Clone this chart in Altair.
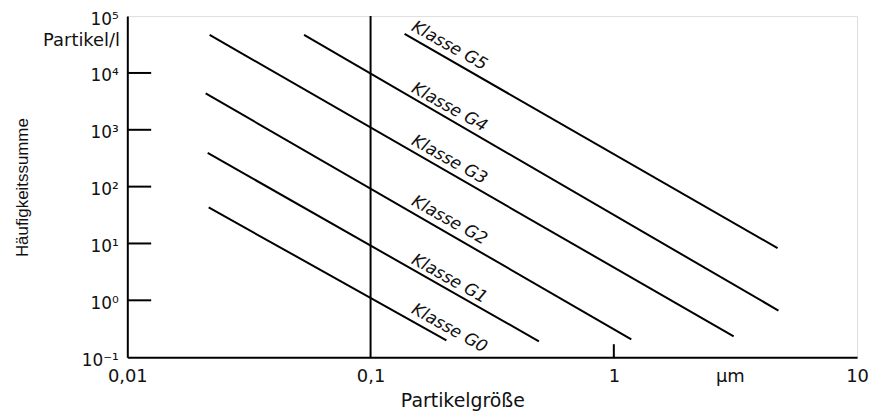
import altair as alt
import pandas as pd

# ---- data ----
classes = ["G0", "G1", "G2", "G3", "G4", "G5"]
x_start = [0.0216, 0.0214, 0.0210, 0.0218, 0.0533, 0.138]
y_start = [43, 392, 4370, 46700, 46700, 48500]
x_end = [0.205, 0.492, 1.18, 3.11, 4.75, 4.71]
y_end = [0.198, 0.19, 0.206, 0.232, 0.66, 8.3]

label_x = [0.211, 0.211, 0.211, 0.211, 0.211, 0.211]
label_y = [0.32, 2.39, 25.5, 296, 2480, 30000]

x_ticks = [0.01, 0.1, 1, 3, 10]
x_tick_labels = ["0,01", "0,1", "1", "µm", "10"]
y_ticks = [0.1, 1, 10, 100, 1000, 10000, 100000]
y_tick_labels = ["10⁻¹", "10⁰", "10¹", "10²", "10³", "10⁴", "10⁵"]
y_inner_ticks = [1, 10, 100, 1000, 10000]
x_inner_ticks = [1]
grid_x = [0.1]

rows = []
for c, xs, ys, xe, ye in zip(classes, x_start, y_start, x_end, y_end):
    rows.append({"cls": c, "x": xs, "y": ys})
    rows.append({"cls": c, "x": xe, "y": ye})
lines_df = pd.DataFrame(rows)
labels_df = pd.DataFrame({"text": ["Klasse " + c for c in classes], "x": label_x, "y": label_y})

xscale = alt.Scale(type="log", domain=[0.01, 10], nice=False)
yscale = alt.Scale(type="log", domain=[0.1, 100000], nice=False)

xlab_map = "{" + ",".join(f"'{v}':'{l}'" for v, l in zip(x_ticks, x_tick_labels)) + "}"
ylab_list = "[" + ",".join(f"'{l}'" for l in y_tick_labels) + "]"

x_axis = alt.Axis(
    values=x_ticks,
    labelExpr=f"{xlab_map}[toString(datum.value)]",
    ticks=False, grid=False, domainColor="black", domainWidth=2,
    labelFont="DejaVu Sans", labelFontSize=18, labelColor="#111",
    labelBaseline="top", labelPadding=11, labelFlush=False, labelOverlap=False,
    title="Partikelgröße", titleFont="DejaVu Sans", titleFontSize=19,
    titleFontWeight="normal", titleColor="#111",
    titleX=337, titleY=44, titleBaseline="middle", titleAlign="center",
)
y_axis = alt.Axis(
    values=y_ticks,
    labelExpr=f"{ylab_list}[round(log(datum.value)/LN10)+1]",
    ticks=False, grid=False, domainColor="black", domainWidth=2,
    labelFont="DejaVu Sans", labelFontSize=17, labelColor="#111",
    labelPadding=9, labelOffset=3, labelFlush=False, labelOverlap=False,
    labelBaseline="middle",
    title="Häufigkeitssumme", titleFont="Liberation Sans", titleFontSize=17,
    titleFontWeight="normal", titleColor="#111", titleLimit=500,
    titleX=-105, titleY=172, titleAngle=270, titleAlign="center", titleBaseline="middle",
)

base_lines = alt.Chart(lines_df).mark_line(color="black", strokeWidth=2).encode(
    x=alt.X("x:Q", scale=xscale, axis=x_axis),
    y=alt.Y("y:Q", scale=yscale, axis=y_axis),
    detail="cls:N",
)

vline = alt.Chart(pd.DataFrame({"x": grid_x})).mark_rule(color="black", strokeWidth=2).encode(
    x=alt.X("x:Q", scale=xscale),
)

yticks = alt.Chart(pd.DataFrame({"y": y_inner_ticks})).mark_rule(color="black", strokeWidth=2).encode(
    y=alt.Y("y:Q", scale=yscale),
    x=alt.value(0), x2=alt.value(24),
)

xticks = alt.Chart(pd.DataFrame({"x": x_inner_ticks})).mark_rule(color="black", strokeWidth=2).encode(
    x=alt.X("x:Q", scale=xscale),
    y=alt.value(343), y2=alt.value(330),
)

labels = alt.Chart(labels_df).mark_text(
    font="DejaVu Sans", fontSize=17, fontStyle="italic", angle=29,
    align="center", baseline="middle", color="#111",
).encode(
    x=alt.X("x:Q", scale=xscale),
    y=alt.Y("y:Q", scale=yscale),
    text="text:N",
)

unit = alt.Chart(pd.DataFrame({"t": ["Partikel/l"]})).mark_text(
    font="DejaVu Sans", fontSize=18, align="center", baseline="middle", color="#111",
).encode(
    x=alt.value(-46), y=alt.value(25), text="t:N",
)

chart = alt.layer(base_lines, vline, yticks, xticks, labels, unit).properties(
    width=734, height=343,
    autosize=alt.AutoSizeParams(type="none"),
    padding={"left": 120, "top": 7, "right": 14, "bottom": 53},
).configure_view(stroke="black", strokeWidth=2).configure(background="white")

chart.save("out.html", embed_options={"renderer": "svg", "actions": False})
